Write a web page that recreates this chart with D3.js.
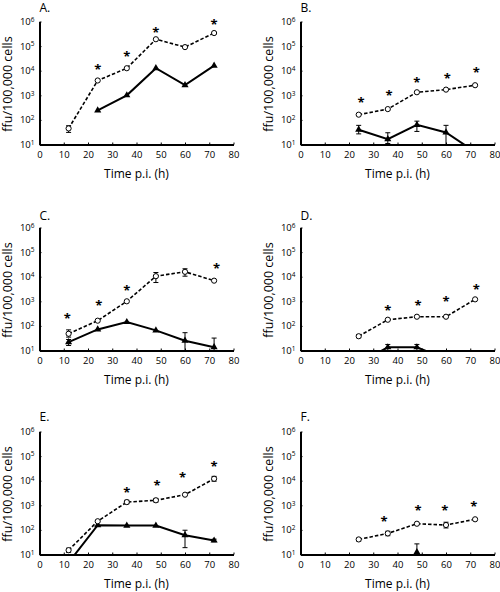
<!DOCTYPE html>
<html><head><meta charset="utf-8">
<script src="https://cdn.jsdelivr.net/npm/d3@7"></script>
<style>body{margin:0;background:#fff} svg{display:block}</style>
</head><body>
<svg id="c" width="500" height="592"></svg>
<script>
// ---- data ----
const times = [12, 24, 36, 48, 60, 72];
const xTicks = [0, 10, 20, 30, 40, 50, 60, 70, 80];
const yExponents = [1, 2, 3, 4, 5, 6];
const panelLabels = ["A.", "B.", "C.", "D.", "E.", "F."];
const xTitle = "Time p.i. (h)";
const yTitle = "ffu/100,000 cells";

// Panel A
const aDashed = [45, 4000, 12600, 190000, 91000, 340000];
const aDashedErr = [[31, 58], null, null, null, null, null];
const aSolid = [null, 245, 1000, 12600, 2600, 16000];
const aSolidErr = [null, null, null, null, null, null];
const aStars = [[24, 15000], [36, 52000], [48, 480000], [72, 1070000]];
// Panel B
const bDashed = [null, 163, 275, 1330, 1700, 2570];
const bDashedErr = [null, null, null, null, null, null];
const bSolid = [null, 40, 16.5, 63, 31, 5];
const bSolidErr = [null, [27, 60], [11, 30], [34, 89], [5, 60], null];
const bStars = [[25, 690], [36.5, 1290], [48, 4370], [60.5, 6300], [72.5, 11500]];
// Panel C
const cDashed = [48, 163, 1000, 10500, 15800, 6900];
const cDashedErr = [[35, 69], null, null, [5800, 14800], [10500, 21000], null];
const cSolid = [22, 72, 144, 66, 25, 13.6];
const cSolidErr = [[16, 28], null, null, null, [5, 53], [5, 32]];
const cStars = [[11.5, 270], [24.5, 930], [36, 3600], [73, 29500]];
// Panel D
const dDashed = [null, 38, 178, 236, 236, 1200];
const dDashedErr = [null, [33, 44], null, null, null, null];
const dSolid = [null, 3, 13.5, 13.5, 4.5, null];
const dSolidErr = [null, null, [5, 17.6], [5, 17.6], null, null];
const dStars = [[36, 600], [48.5, 940], [60, 1400], [72.5, 4000]];
// Panel E
const eDashed = [15, 225, 1350, 1600, 2700, 12000];
const eDashedErr = [[12, 18], null, [1150, 1600], [1350, 1900], null, [9500, 15000]];
const eSolid = [4.7, 155, 150, 150, 61, 37];
const eSolidErr = [null, null, null, null, [19, 97], [33, 42]];
const eStars = [[36, 4700], [48.5, 8700], [59, 18600], [72, 50000]];
// Panel F
const fDashed = [null, 41, 72, 178, 158, 270];
const fDashedErr = [null, [35, 46], [58, 88], null, [120, 205], null];
const fSolid = [null, null, null, 12.5, null, null];
const fSolidErr = [null, null, null, [1, 27], null, null];
const fStars = [[34.5, 295], [48.5, 810], [59.5, 810], [71.5, 1170]];

const panels = [
  {dashed: aDashed, dashedErr: aDashedErr, solid: aSolid, solidErr: aSolidErr, stars: aStars},
  {dashed: bDashed, dashedErr: bDashedErr, solid: bSolid, solidErr: bSolidErr, stars: bStars},
  {dashed: cDashed, dashedErr: cDashedErr, solid: cSolid, solidErr: cSolidErr, stars: cStars},
  {dashed: dDashed, dashedErr: dDashedErr, solid: dSolid, solidErr: dSolidErr, stars: dStars},
  {dashed: eDashed, dashedErr: eDashedErr, solid: eSolid, solidErr: eSolidErr, stars: eStars},
  {dashed: fDashed, dashedErr: fDashedErr, solid: fSolid, solidErr: fSolidErr, stars: fStars}
];

// ---- layout ----
const FONT = "'Open Sans', 'Liberation Sans', sans-serif";
const cols = [[39.5, 233.5], [300.5, 494.5]];
const rows = [[21.5, 144.5], [227.5, 350.5], [431.5, 554.5]];
const labelBaselines = [11.5, 220, 421];

const svg = d3.select("#c").style("font-family", FONT);

panels.forEach((p, i) => {
  const c = cols[i % 2], r = rows[Math.floor(i / 2)];
  const x = d3.scaleLinear().domain([0, 80]).range(c);
  const y = d3.scaleLog().domain([10, 1e6]).range([r[1], r[0]]);
  const g = svg.append("g");

  const cid = "clip" + i;
  svg.append("clipPath").attr("id", cid).append("rect")
    .attr("x", c[0]).attr("y", r[0] - 10)
    .attr("width", c[1] - c[0] + 6).attr("height", r[1] - r[0] + 10);
  const plot = g.append("g").attr("clip-path", `url(#${cid})`);

  function drawSeries(vals, errs, dashed) {
    const pts = times.map((t, j) => ({t, v: vals[j], e: errs[j]}));
    const line = d3.line().defined(d => d.v != null).x(d => x(d.t)).y(d => y(d.v));
    plot.append("path").datum(pts).attr("d", line)
      .attr("fill", "none").attr("stroke", "#000")
      .attr("stroke-width", dashed ? 1.6 : 2)
      .attr("stroke-dasharray", dashed ? "3.5,2" : null);
    const eb = pts.filter(d => d.v != null && d.e);
    const eg = plot.append("g").attr("stroke", "#000").attr("stroke-width", 1);
    eb.forEach(d => {
      eg.append("line").attr("x1", x(d.t)).attr("x2", x(d.t)).attr("y1", y(d.e[0])).attr("y2", y(d.e[1]));
      d.e.forEach(ev => eg.append("line").attr("x1", x(d.t) - 2.5).attr("x2", x(d.t) + 2.5).attr("y1", y(ev)).attr("y2", y(ev)));
    });
    const mk = pts.filter(d => d.v != null);
    if (dashed) {
      plot.append("g").selectAll("circle").data(mk).join("circle")
        .attr("cx", d => x(d.t)).attr("cy", d => y(d.v)).attr("r", 2.6)
        .attr("fill", "#fff").attr("stroke", "#000").attr("stroke-width", 1);
    } else {
      plot.append("g").selectAll("path").data(mk).join("path")
        .attr("transform", d => `translate(${x(d.t)},${y(d.v)})`)
        .attr("d", d3.symbol(d3.symbolTriangle, 22)).attr("fill", "#000");
    }
  }
  drawSeries(p.solid, p.solidErr, false);
  drawSeries(p.dashed, p.dashedErr, true);

  // stars
  const sfs = 13;
  g.append("g").selectAll("text").data(p.stars).join("text")
    .attr("x", d => x(d[0])).attr("y", d => y(d[1]) + 0.6 * sfs)
    .attr("text-anchor", "middle").attr("font-size", sfs + "px").attr("font-weight", "bold")
    .text("*");

  // x axis
  const xa = g.append("g").attr("transform", `translate(0,${r[1]})`)
    .call(d3.axisBottom(x).tickValues(xTicks).tickSize(-2).tickSizeOuter(0).tickPadding(7).tickFormat(d3.format("d")));
  xa.select(".domain").attr("stroke-width", 2);
  xa.selectAll(".tick text").attr("font-size", "9.5px").attr("font-family", FONT);

  // y axis
  const ya = g.append("g").attr("transform", `translate(${c[0]},0)`)
    .call(d3.axisLeft(y).tickValues(yExponents.map(e => Math.pow(10, e))).tickSize(-2).tickSizeOuter(0).tickPadding(5).tickFormat(() => ""));
  ya.select(".domain").attr("stroke-width", 2);
  ya.selectAll(".tick text").attr("font-size", "9.5px").attr("font-family", FONT).each(function (d, j) {
    const t = d3.select(this);
    t.append("tspan").text("10");
    t.append("tspan").attr("dy", "-0.5em").attr("font-size", "6.5px").text(yExponents[j]);
  });

  // titles
  g.append("text").attr("x", (c[0] + c[1]) / 2).attr("y", r[1] + 33)
    .attr("text-anchor", "middle").attr("font-size", "12px").text(xTitle);
  g.append("text").attr("transform", `translate(${c[0] - 31.5},${(r[0] + r[1]) / 2 + 1}) rotate(-90)`)
    .attr("text-anchor", "middle").attr("dy", "0.35em").attr("font-size", "12.5px").text(yTitle);
  g.append("text").attr("x", c[0]).attr("y", labelBaselines[Math.floor(i / 2)])
    .attr("font-size", "12px").text(panelLabels[i]);
});
</script>
</body></html>
